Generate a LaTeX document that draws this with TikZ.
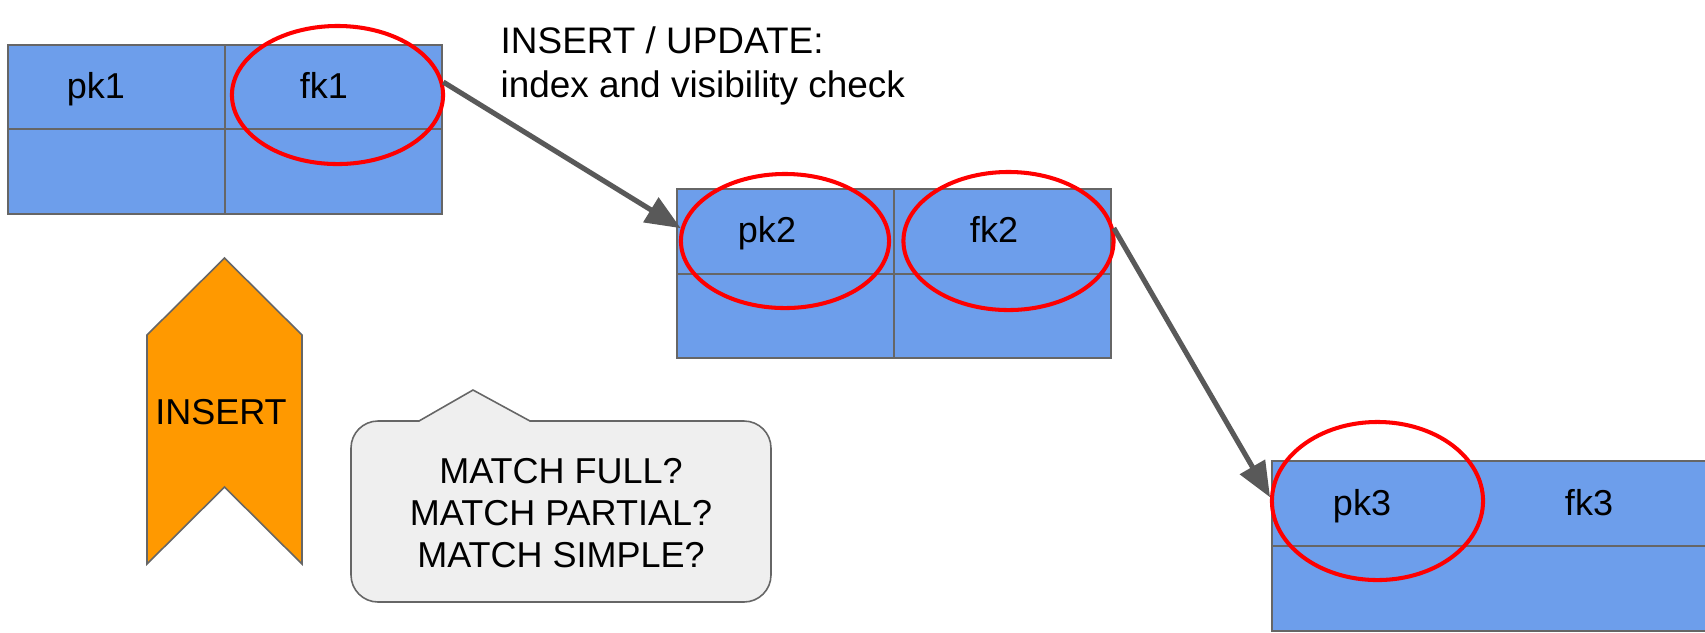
\documentclass[tikz,border=0pt]{standalone}
\usepackage{fontspec}
\setmainfont{Liberation Sans}
\usetikzlibrary{shapes.geometric, arrows.meta}

\definecolor{cellblue}{HTML}{6D9EEB}
\definecolor{linegray}{HTML}{666666}
\definecolor{arrowgray}{HTML}{595959}
\definecolor{bannerorange}{HTML}{FF9900}
\definecolor{calloutgray}{HTML}{EFEFEF}

\tikzset{
  tablebox/.style={draw=linegray, fill=cellblue, line width=0.55pt},
  tableline/.style={draw=linegray, line width=0.55pt},
  keycircle/.style={ellipse, draw=red, line width=1.15pt, inner sep=0pt},
  keytext/.style={font=\fontsize{10.24}{12.3}\selectfont, inner sep=0pt},
  checkarrow/.style={draw=arrowgray, line width=1.45pt, -{Triangle[length=10pt, width=8pt]}}
}

\begin{document}
\begin{tikzpicture}[x=0.01cm, y=-0.01cm]
\fill[white] (0,0) rectangle (1705,632);
\useasboundingbox (0,0) rectangle (1705,632);

\filldraw[tablebox] (8,45) rectangle (442,214);
\draw[tableline] (225,45)--(225,214);
\draw[tableline] (8,129)--(442,129);
\filldraw[tablebox] (677,189) rectangle (1111,358);
\draw[tableline] (894,189)--(894,358);
\draw[tableline] (677,274)--(1111,274);
\filldraw[tablebox] (1272,461) rectangle (1706,631);
\draw[tableline] (1272,546)--(1706,546);

\node[keytext, anchor=base] (pk1) at (96,98) {pk1};
\node[keytext, anchor=base] (fk1) at (324,98) {fk1};
\node[keytext, anchor=base] (pk2) at (767,242) {pk2};
\node[keytext, anchor=base] (fk2) at (994,242) {fk2};
\node[keytext, anchor=base] (pk3) at (1362,515) {pk3};
\node[keytext, anchor=base] (fk3) at (1589,515) {fk3};

\node[keycircle, minimum width=2.11cm, minimum height=1.38cm] (fk1c) at (337.5,95) {};
\node[keycircle, minimum width=2.08cm, minimum height=1.34cm] (pk2c) at (785,241) {};
\node[keycircle, minimum width=2.10cm, minimum height=1.38cm] (fk2c) at (1008.5,241) {};
\node[keycircle, minimum width=2.11cm, minimum height=1.58cm] (pk3c) at (1377.5,501) {};

\draw[checkarrow] (fk1c.7) -- (pk2c.173);
\draw[checkarrow] (fk2c.7) -- (pk3c.178);

\node[keytext, font=\fontsize{10.5}{12.4}\selectfont, anchor=north west, align=left] (title) at (500,26)
  {INSERT / UPDATE:\\index and visibility check};

\filldraw[fill=bannerorange, draw=linegray, line width=0.45pt]
  (224.5,258) -- (302,335) -- (302,564) -- (224.5,487) -- (147,564) -- (147,335) -- cycle;
\node[keytext, anchor=base] (insert) at (221,424) {INSERT};

\filldraw[fill=calloutgray, draw=linegray, line width=0.45pt]
  (473,390) -- (530,421) [rounded corners=0.27cm] -- (771,421) -- (771,602)
  -- (351,602) -- (351,421) [sharp corners] -- (419,421) -- cycle;
\node[keytext, font=\fontsize{10.24}{11.95}\selectfont, align=center] (match) at (561,513)
  {MATCH FULL?\\MATCH PARTIAL?\\MATCH SIMPLE?};
\end{tikzpicture}
\end{document}
